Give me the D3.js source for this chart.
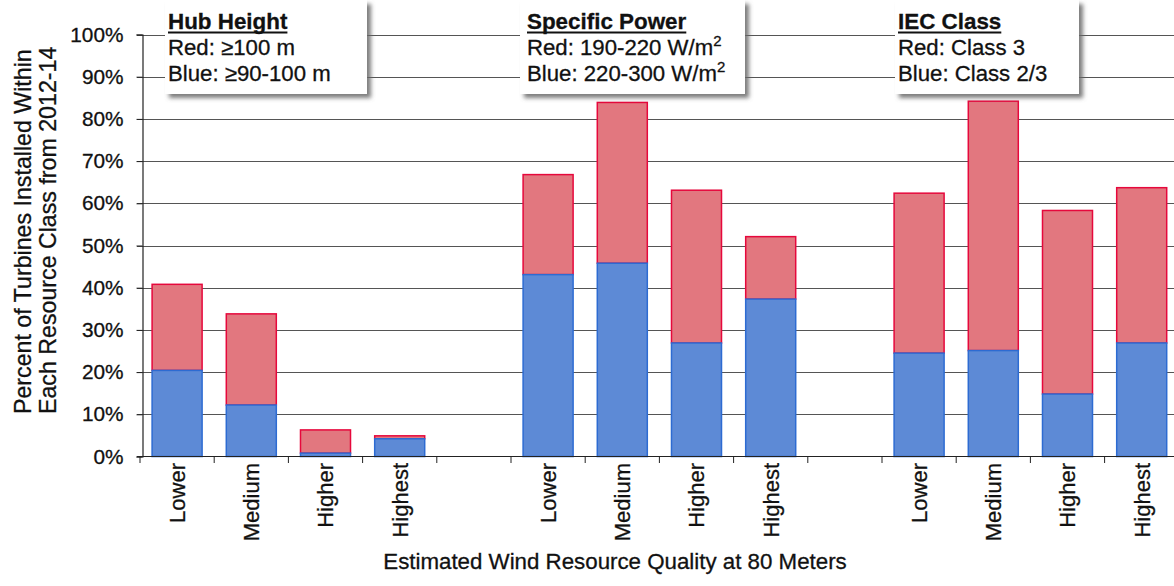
<!DOCTYPE html>
<html>
<head>
<meta charset="utf-8">
<script src="https://cdn.jsdelivr.net/npm/d3@7"></script>
<style>
  html, body { margin: 0; padding: 0; background: #fff; }
  svg { display: block; font-family: "Liberation Sans", Arial, sans-serif; }
  svg text { stroke: #111; stroke-width: 0.3px; fill: #111; }
</style>
</head>
<body>
<svg id="chart" width="1174" height="586"></svg>
<script>
// ---------- data ----------
const categories = ["Lower", "Medium", "Higher", "Highest"];
const groups = ["Hub Height", "Specific Power", "IEC Class"];
const hubBlue  = [20.4, 12.2, 0.8, 4.2];
const hubTotal = [40.8, 33.8, 6.3, 4.9];
const spBlue   = [43.1, 45.8, 26.9, 37.3];
const spTotal  = [66.8, 83.9, 63.1, 52.1];
const iecBlue  = [24.5, 25.1, 14.8, 26.9];
const iecTotal = [62.4, 84.2, 58.3, 63.7];
const yTicks = [0, 10, 20, 30, 40, 50, 60, 70, 80, 90, 100];
const legendTitles = ["Hub Height", "Specific Power", "IEC Class"];
const legendRed  = [["Red: \u2265100 m"], ["Red: 190-220 W/m", "2"], ["Red: Class 3"]];
const legendBlue = [["Blue: \u226590-100 m"], ["Blue: 220-300 W/m", "2"], ["Blue: Class 2/3"]];
const xTitle = "Estimated Wind Resource Quality at 80 Meters";
const yTitle = ["Percent of Turbines Installed Within", "Each Resource Class from 2012-14"];

const blueSeries = [hubBlue, spBlue, iecBlue];
const totalSeries = [hubTotal, spTotal, iecTotal];

// ---------- layout ----------
const svg = d3.select("#chart");
const X0 = 140, STEP = 74.2, NSLOT = 14;
const slots = [];
groups.forEach((g, gi) => {
  categories.forEach(c => slots.push(g + "|" + c));
  if (gi < groups.length - 1) slots.push("gap" + gi);
});
const x = d3.scaleBand().domain(slots).range([X0, X0 + STEP * NSLOT])
  .paddingInner(0.326).paddingOuter(0.163);
const y = d3.scaleLinear().domain([0, 100]).range([456.5, 34.5]);

const RED_FILL = "#E2777F", RED_STROKE = "#E6083C";
const BLUE_FILL = "#5D8AD6", BLUE_STROKE = "#2D6BD2";

const defs = svg.append("defs");
const f = defs.append("filter").attr("id", "shadow").attr("x", "-10%").attr("y", "-10%")
  .attr("width", "130%").attr("height", "140%");
f.append("feDropShadow").attr("dx", 4).attr("dy", 4).attr("stdDeviation", 2)
  .attr("flood-color", "#666").attr("flood-opacity", 0.85);

// gridlines
svg.append("g").selectAll("line").data(yTicks.filter(d => d > 0)).join("line")
  .attr("x1", 137).attr("x2", 1174)
  .attr("y1", d => Math.round(y(d)) + 0.5).attr("y2", d => Math.round(y(d)) + 0.5)
  .attr("stroke", "#555").attr("stroke-width", 1);

// y axis
const yAxis = d3.axisLeft(y).tickValues(yTicks).tickFormat(d => d + "%").tickSize(6).tickPadding(13);
const yg = svg.append("g").attr("transform", "translate(142.5,0)").call(yAxis);
yg.select(".domain").attr("stroke", "#222").attr("stroke-width", 1.2);
yg.selectAll(".tick line").attr("stroke", "#222");
yg.selectAll(".tick text").attr("font-size", 20.8).attr("fill", "#111")
  .attr("font-family", "Liberation Sans, Arial, sans-serif");

// bars
const barData = [];
groups.forEach((g, gi) => {
  categories.forEach((c, ci) => {
    barData.push({ key: g + "|" + c, blue: blueSeries[gi][ci], total: totalSeries[gi][ci] });
  });
});
const bars = svg.append("g");
bars.selectAll("rect.red").data(barData).join("rect").attr("class", "red")
  .attr("x", d => x(d.key)).attr("width", x.bandwidth())
  .attr("y", d => y(d.total)).attr("height", d => y(d.blue) - y(d.total))
  .attr("fill", RED_FILL).attr("stroke", RED_STROKE).attr("stroke-width", 1.5);
bars.selectAll("rect.blue").data(barData).join("rect").attr("class", "blue")
  .attr("x", d => x(d.key)).attr("width", x.bandwidth())
  .attr("y", d => y(d.blue)).attr("height", d => y(0) - y(d.blue))
  .attr("fill", BLUE_FILL).attr("stroke", BLUE_STROKE).attr("stroke-width", 1.5);

// x axis line and ticks
const xa = svg.append("g");
xa.append("line").attr("x1", 137).attr("x2", 1174).attr("y1", 456.5).attr("y2", 456.5)
  .attr("stroke", "#222").attr("stroke-width", 1.2);
xa.selectAll("line.t").data(d3.range(NSLOT + 1)).join("line").attr("class", "t")
  .attr("x1", i => X0 + i * STEP).attr("x2", i => X0 + i * STEP)
  .attr("y1", 456).attr("y2", 463).attr("stroke", "#222");
xa.selectAll("text").data(barData).join("text")
  .attr("transform", d => `translate(${x(d.key) + x.bandwidth() / 2},463) rotate(-90)`)
  .attr("text-anchor", "end").attr("dy", "0.36em")
  .attr("font-size", 22).attr("fill", "#111")
  .text(d => d.key.split("|")[1]);

// axis titles
svg.append("text").attr("x", 615).attr("y", 569).attr("text-anchor", "middle")
  .attr("font-size", 22.3).attr("fill", "#111").text(xTitle);
const yt = svg.append("text").attr("transform", "translate(0,414) rotate(-90)")
  .attr("text-anchor", "start").attr("font-size", 23.2).attr("fill", "#111");
yt.append("tspan").attr("x", 0).attr("y", 31).text(yTitle[0]);
yt.append("tspan").attr("x", 0).attr("y", 56).text(yTitle[1]);

// legend boxes
const boxes = [
  { x: 165, w: 202, tx: 168 },
  { x: 520, w: 225, tx: 527 },
  { x: 895, w: 184, tx: 898 }
];
boxes.forEach((b, i) => {
  const g = svg.append("g");
  g.append("rect").attr("x", b.x).attr("y", 0).attr("width", b.w).attr("height", 94)
    .attr("fill", "#fff").attr("filter", "url(#shadow)");
  const t = g.append("text").attr("x", b.tx).attr("y", 29).attr("font-size", 22.4)
    .attr("font-weight", "bold").attr("fill", "#111").text(legendTitles[i]);
  const w = t.node().getComputedTextLength();
  g.append("line").attr("x1", b.tx).attr("x2", b.tx + w).attr("y1", 32.5).attr("y2", 32.5)
    .attr("stroke", "#111").attr("stroke-width", 2);
  [[legendRed[i], 55], [legendBlue[i], 81]].forEach(([parts, yy]) => {
    const tt = g.append("text").attr("x", b.tx).attr("y", yy).attr("font-size", 22.2).attr("fill", "#111");
    tt.append("tspan").text(parts[0]);
    if (parts[1]) tt.append("tspan").attr("font-size", 15).attr("dy", -9).text(parts[1]);
  });
});
</script>
</body>
</html>
